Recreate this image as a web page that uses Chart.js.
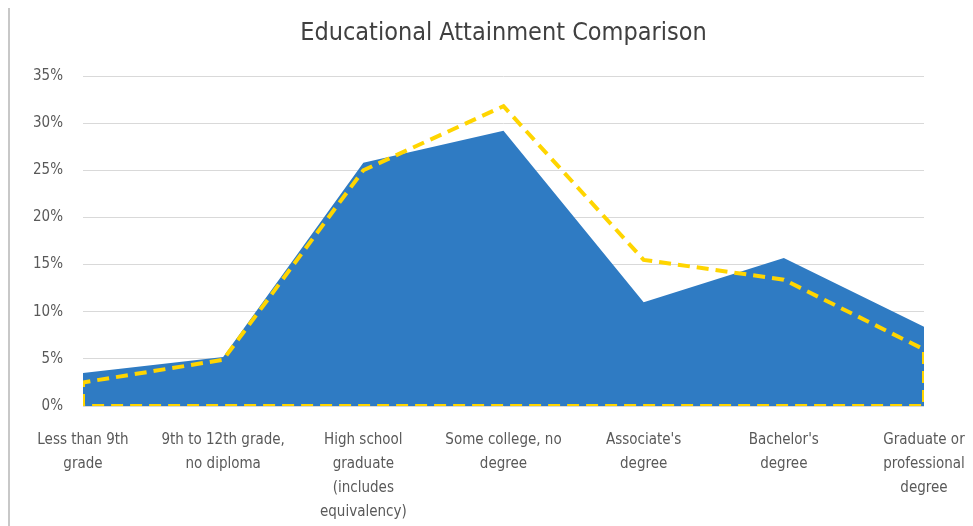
<!DOCTYPE html>
<html>
<head>
<meta charset="utf-8">
<script src="https://cdn.jsdelivr.net/npm/chart.js@4/dist/chart.umd.min.js"></script>
<style>
  html, body { margin: 0; padding: 0; background: #fff; }
  .wrap { position: relative; width: 973px; height: 526px; }
  .edge { position: absolute; left: 8px; top: 8px; bottom: 0; border-left: 2px solid #c8c8c8; }
  canvas { position: absolute; left: 0; top: 0; }
</style>
</head>
<body>
<div class="wrap">
  <div class="edge"></div>
  <canvas id="chart" width="973" height="526"></canvas>
</div>
<script>
// categories (multi-line labels as they appear under the axis)
const categories = [
  ['Less than 9th', 'grade'],
  ['9th to 12th grade,', 'no diploma'],
  ['High school', 'graduate', '(includes', 'equivalency)'],
  ['Some college, no', 'degree'],
  ["Associate's", 'degree'],
  ["Bachelor's", 'degree'],
  ['Graduate or', 'professional', 'degree']
];

// series values in percent
const blueValues = [3.5, 5.2, 25.8, 29.2, 11.0, 15.7, 8.4];
const yellowValues = [2.5, 4.9, 25.0, 31.8, 15.5, 13.4, 6.0];

const yTicks = [0, 5, 10, 15, 20, 25, 30, 35];

const last = categories.length - 1;
const bluePoints = blueValues.map((v, i) => ({ x: i, y: v }));
// yellow series is an unfilled area, so its dashed outline runs round the baseline too
const yellowPoints = [{ x: 0, y: 0 }]
  .concat(yellowValues.map((v, i) => ({ x: i, y: v })))
  .concat([{ x: last, y: 0 }, { x: 0, y: 0 }]);

const fontFamily = '"Liberation Sans Narrow", "DejaVu Sans Condensed", sans-serif';

new Chart(document.getElementById('chart'), {
  type: 'scatter',
  data: {
    datasets: [
      {
        label: 'Yellow',
        data: yellowPoints,
        showLine: true,
        borderColor: '#FFD500',
        borderWidth: 4,
        borderDash: [12, 7],
        pointRadius: 0,
        fill: false,
        order: 0
      },
      {
        label: 'Blue',
        data: bluePoints,
        showLine: true,
        borderColor: '#2F7BC3',
        borderWidth: 0,
        backgroundColor: '#2F7BC3',
        pointRadius: 0,
        fill: 'origin',
        order: 1
      }
    ]
  },
  options: {
    responsive: false,
    animation: false,
    layout: { padding: { left: 0, right: 49, top: 0, bottom: 0 } },
    plugins: {
      legend: { display: false },
      tooltip: { enabled: false },
      title: {
        display: true,
        fullSize: false,
        text: 'Educational Attainment Comparison',
        color: '#404040',
        font: { family: fontFamily, size: 25, weight: 'normal' },
        padding: { top: 18, bottom: 28 }
      }
    },
    scales: {
      x: {
        type: 'linear',
        min: 0,
        max: last,
        afterBuildTicks: (scale) => { scale.ticks = categories.map((c, i) => ({ value: i })); },
        afterFit: (scale) => {
          scale.height = 120;
          scale.paddingLeft = 0;
          scale.paddingRight = 0;
        },
        grid: { display: false, drawTicks: false },
        border: { display: false },
        ticks: {
          autoSkip: false,
          maxRotation: 0,
          padding: 22,
          color: '#595959',
          font: { family: fontFamily, size: 15, lineHeight: 1.6 },
          callback: (value) => categories[value]
        }
      },
      y: {
        min: 0,
        max: 35,
        afterBuildTicks: (scale) => { scale.ticks = yTicks.map(v => ({ value: v })); },
        afterFit: (scale) => { scale.width = 83; },
        grid: { color: '#d9d9d9', lineWidth: 1, drawTicks: false },
        border: { display: false },
        ticks: {
          padding: 20,
          color: '#595959',
          font: { family: fontFamily, size: 15 },
          callback: (value) => value + '%'
        }
      }
    }
  }
});
</script>
</body>
</html>
